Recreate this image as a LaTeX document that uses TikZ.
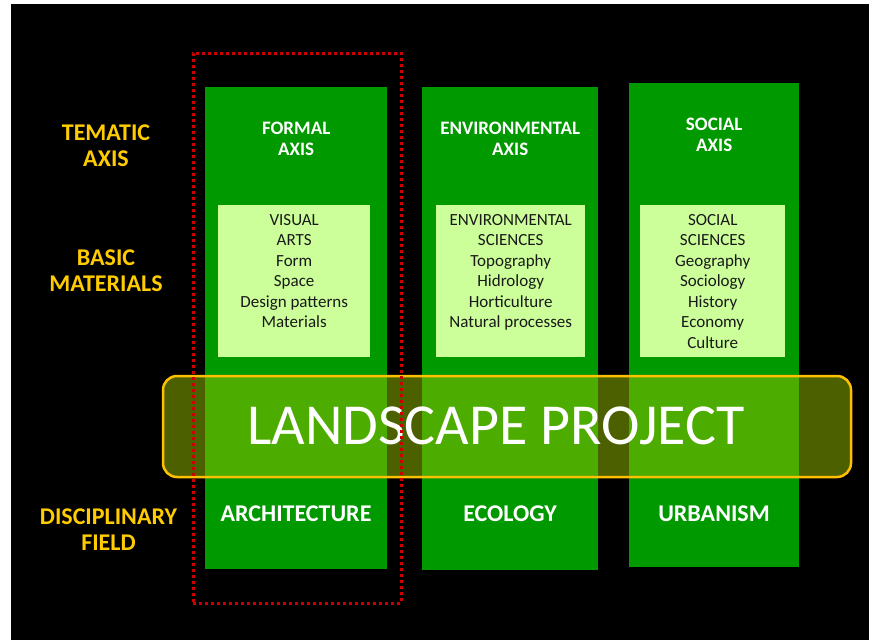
\documentclass[tikz,border=0pt]{standalone}
\usepackage{fontspec}
\setmainfont{Carlito}
\usepackage{tikz}
\usetikzlibrary{positioning}
\definecolor{axisgreen}{RGB}{0,153,0}
\definecolor{palegreen}{RGB}{204,255,153}
\definecolor{labelgold}{RGB}{255,204,0}
\definecolor{bandgold}{RGB}{255,192,0}
\definecolor{bandfill}{RGB}{152,192,0}
\definecolor{framered}{RGB}{204,0,0}
\tikzstyle{column}=[fill=axisgreen,inner sep=0pt,anchor=north west]
\tikzstyle{header}=[white,font=\bfseries\fontsize{19}{21}\selectfont,align=center,inner sep=0pt,anchor=north]
\tikzstyle{matbox}=[fill=palegreen,inner sep=0pt,anchor=north west,minimum height=152pt]
\tikzstyle{mattext}=[black!90,font=\fontsize{17}{20.5}\selectfont,align=center,inner sep=0pt,anchor=north]
\tikzstyle{rowlabel}=[labelgold,font=\bfseries\fontsize{24}{26}\selectfont,align=center,inner sep=0pt,anchor=north]
\tikzstyle{fieldlabel}=[white,font=\bfseries\fontsize{24}{26}\selectfont,inner sep=0pt,anchor=north]
\tikzstyle{band}=[draw=bandgold,line width=2.5pt,rounded corners=14pt,fill=bandfill,fill opacity=0.5,inner sep=0pt]
\tikzstyle{bandtext}=[white,font=\fontsize{58}{60}\selectfont,inner sep=0pt,anchor=north]
\tikzstyle{focusframe}=[draw=framered,line width=3pt,dash pattern=on 3pt off 3pt,inner sep=0pt]

\begin{document}
\begin{tikzpicture}[x=1pt,y=-1pt]

    \useasboundingbox (0,0) rectangle (872,640);
    \fill[white] (0,0) rectangle (872,640);
    \fill[black] (11,4) rectangle (869,640);

    % axis columns
    \foreach \x/\y/\w/\h/\name in {205/87/182/482/formal, 422/87/176/483/env, 629/83/170/484/social}
        \node[column, minimum width=\w pt, minimum height=\h pt] (\name) at (\x,\y) {};

    \foreach \name/\title in {formal/{FORMAL\\AXIS}, env/{ENVIRONMENTAL\\AXIS}, social/{SOCIAL\\AXIS}}
        \node[header, below=35pt of \name.north] (\name-head) {\title};

    % basic materials boxes
    \foreach \x/\w/\name in {218/152/formal, 436/149/env, 640/145/social}
        \node[matbox, minimum width=\w pt] (\name-box) at (\x,205) {};

    \foreach \name/\list in {formal/{VISUAL\\ARTS\\Form\\Space\\Design patterns\\Materials},
                             env/{ENVIRONMENTAL\\SCIENCES\\Topography\\Hidrology\\Horticulture\\Natural processes},
                             social/{SOCIAL\\SCIENCES\\Geography\\Sociology\\History\\Economy\\Culture}}
        \node[mattext, below=9pt of \name-box.north] (\name-list) {\list};

    % disciplinary fields
    \foreach \x/\name/\field in {296/formal/ARCHITECTURE, 510/env/ECOLOGY, 714/social/URBANISM}
        \node[fieldlabel] (\name-field) at (\x,505.5) {\field};

    % row labels on the left
    \foreach \x/\y/\name/\label in {106/125/tematic/{TEMATIC\\AXIS}, 106/250/basic/{BASIC\\MATERIALS}, 108.5/508.3/discipline/{DISCIPLINARY\\FIELD}}
        \node[rowlabel] (\name) at (\x,\y) {\label};

    % project band across the columns
    \node[band, minimum width=688pt, minimum height=101pt] (project) at (507,426.5) {};
    \node[bandtext] (project-title) at (496,406.7) {LANDSCAPE PROJECT};

    % dotted frame round the formal axis
    \node[focusframe, minimum width=208pt, minimum height=550pt] (focus) at (297,328) {};

\end{tikzpicture}
\end{document}
